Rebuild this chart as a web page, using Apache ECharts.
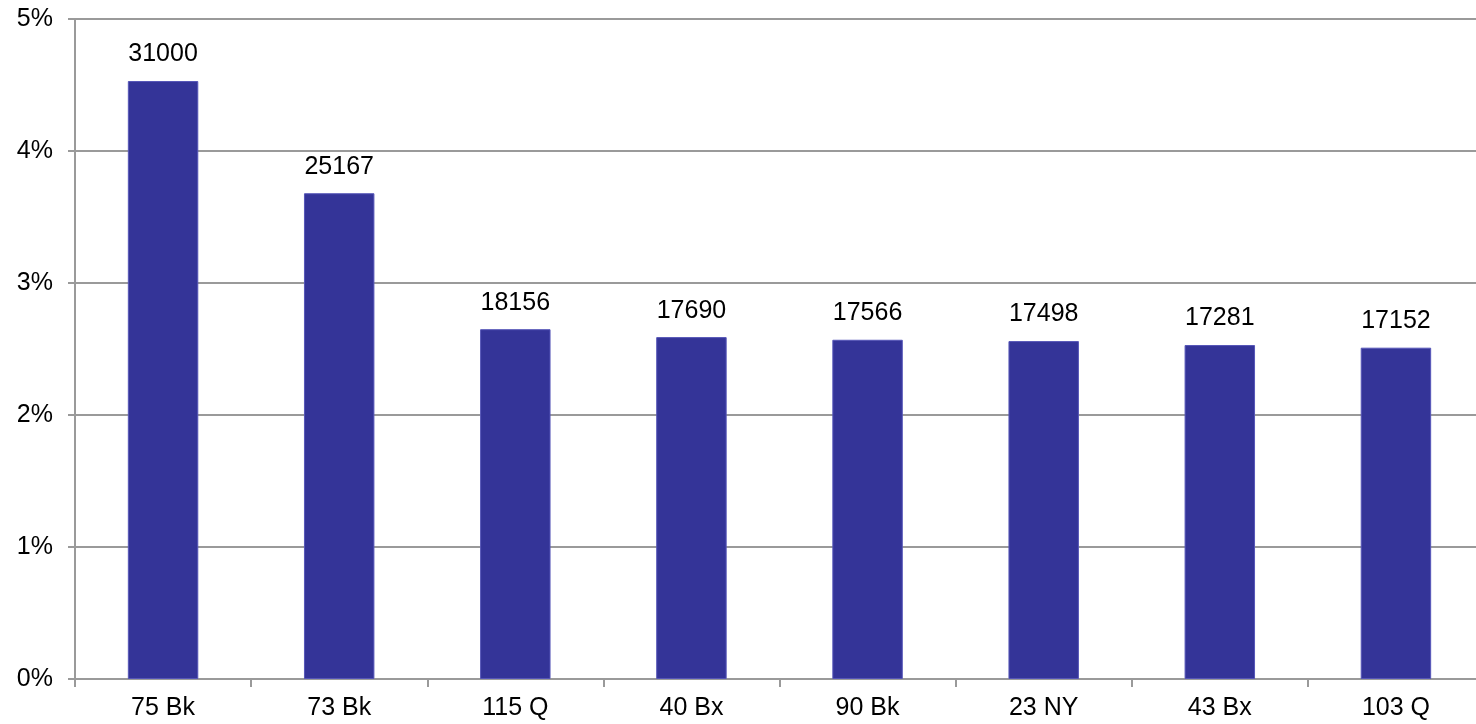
<!DOCTYPE html>
<html>
<head>
<meta charset="utf-8">
<script src="https://cdn.jsdelivr.net/npm/echarts@6/dist/echarts.min.js"></script>
<style>html,body{margin:0;padding:0;background:#fff;}#c{width:1476px;height:724px;}</style>
</head>
<body>
<div id="c"></div>
<script>
var categories = ['75 Bk', '73 Bk', '115 Q', '40 Bx', '90 Bk', '23 NY', '43 Bx', '103 Q'];
var shares = [4.53, 3.68, 2.65, 2.59, 2.57, 2.56, 2.53, 2.51];
var counts = [31000, 25167, 18156, 17690, 17566, 17498, 17281, 17152];
var yTicks = [0, 1, 2, 3, 4, 5];

var chart = echarts.init(document.getElementById('c'));
var font = 'Liberation Sans, Arial, sans-serif';
chart.setOption({
  animation: false,
  grid: { left: 75, width: 1409, top: 19, height: 660, containLabel: false, outerBoundsMode: 'none' },
  xAxis: {
    type: 'category',
    data: categories,
    axisLine: { lineStyle: { color: '#9a9a9a', width: 2 } },
    axisTick: { show: true, length: 8, lineStyle: { color: '#9a9a9a', width: 2 }, alignWithLabel: false },
    axisLabel: { color: '#000', fontFamily: font, fontSize: 25, margin: 17 }
  },
  yAxis: {
    type: 'value',
    min: yTicks[0],
    max: yTicks[yTicks.length - 1],
    interval: 1,
    axisLine: { show: true, lineStyle: { color: '#9a9a9a', width: 2 } },
    axisTick: { show: true, length: 7, lineStyle: { color: '#9a9a9a', width: 2 } },
    splitLine: { lineStyle: { color: '#9a9a9a', width: 2 } },
    axisLabel: { color: '#000', fontFamily: font, fontSize: 25, margin: 22, formatter: '{value}%' }
  },
  series: [{
    type: 'bar',
    data: shares.map(function (v, i) { return { value: v, count: counts[i] }; }),
    barWidth: '40%',
    itemStyle: { color: '#343498', borderColor: '#5656b8', borderWidth: 1 },
    label: {
      show: true,
      position: 'top',
      distance: 14,
      color: '#000',
      fontFamily: font,
      fontSize: 25,
      formatter: function (p) { return counts[p.dataIndex]; }
    }
  }]
});
</script>
</body>
</html>
